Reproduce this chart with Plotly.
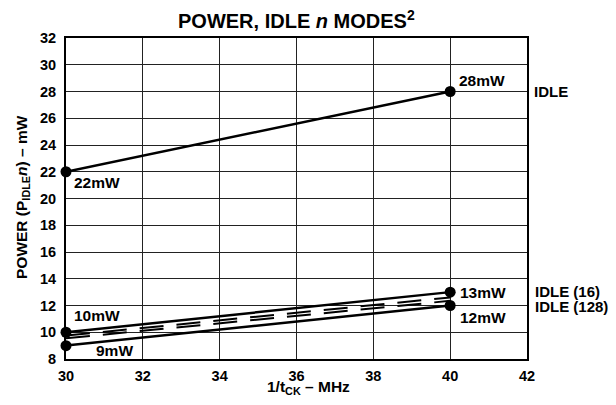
import plotly.graph_objects as go

freq = [30, 40]
idle = [22, 28]
idle16 = [10, 13]
idle128 = [9, 12]
dash_upper = [9.75, 12.6]
dash_lower = [9.55, 12.35]

x_ticks = [30, 32, 34, 36, 38, 40, 42]
y_ticks = [8, 10, 12, 14, 16, 18, 20, 22, 24, 26, 28, 30, 32]

FONT = "Liberation Sans"
L, R, T, B = 66, 527, 38, 359  # plot area in pixels

fig = go.Figure()
for ys in (dash_upper, dash_lower):
    fig.add_trace(go.Scatter(x=freq, y=ys, mode="lines",
                             line=dict(color="black", width=2, dash="24px,13px"),
                             showlegend=False, hoverinfo="skip"))
for ys in (idle, idle16, idle128):
    fig.add_trace(go.Scatter(x=freq, y=ys, mode="lines+markers", cliponaxis=False,
                             line=dict(color="black", width=2.5),
                             marker=dict(color="black", size=11),
                             showlegend=False))

lab = dict(family=FONT, size=15.5, color="black", weight="bold")
side = dict(family=FONT, size=15, color="black", weight="bold")
tickf = dict(family=FONT, size=14.5, color="black", weight="bold")
axt = dict(family=FONT, size=15.5, color="black", weight="bold")

def ann(x, y, text, xs=0, ys=0, font=lab):
    fig.add_annotation(x=x, y=y, xref="x", yref="y", text=text, showarrow=False,
                       xanchor="left", yanchor="middle", xshift=xs, yshift=ys,
                       font=font)

ann(freq[1], idle[1], "28mW", xs=7, ys=11)
ann(freq[0], idle[0], "22mW", xs=6, ys=-11)
ann(freq[0], idle16[0], "10mW", xs=6, ys=17)
ann(freq[0], idle128[0], "9mW", xs=28, ys=-5)
ann(freq[1], idle16[1], "13mW", xs=8, ys=0)
ann(freq[1], idle128[1], "12mW", xs=8, ys=-12)
ann(42, idle[1], "IDLE", xs=5, font=side)
ann(42, idle16[1], "IDLE (16)", xs=6, ys=1, font=side)
ann(42, idle128[1], "IDLE (128)", xs=6, ys=-1, font=side)

def px(xp):
    return (xp - L) / (R - L)

def py(yp):
    return (B - yp) / (B - T)

fig.add_annotation(x=px(296.5), y=py(20), xref="paper", yref="paper",
                   text="POWER, IDLE <i>n</i> MODES<sup>2</sup>", showarrow=False,
                   xanchor="center", yanchor="middle",
                   font=dict(family=FONT, size=20, color="black", weight="bold"))
fig.add_annotation(x=px(308), y=py(388), xref="paper", yref="paper",
                   text="1/t<sub>CK</sub> – MHz", showarrow=False,
                   xanchor="center", yanchor="middle", font=axt)
fig.add_annotation(x=px(22), y=py(197), xref="paper", yref="paper",
                   text="POWER (P<sub>IDLE</sub><i>n</i>) – mW", showarrow=False,
                   textangle=-90, xanchor="center", yanchor="middle", font=axt)

fig.update_layout(
    width=616, height=405,
    margin=dict(l=L, r=616 - R, t=T, b=405 - B),
    paper_bgcolor="white", plot_bgcolor="white",
    font=dict(family=FONT, color="black"),
)
fig.update_xaxes(range=[30, 42], tickvals=x_ticks, showgrid=True, gridcolor="#222",
                 gridwidth=1, showline=True, mirror=True, linecolor="black", linewidth=2,
                 zeroline=False, ticks="", ticklabelstandoff=3, tickfont=tickf)
fig.update_yaxes(range=[8, 32], tickvals=y_ticks, showgrid=True, gridcolor="#222",
                 gridwidth=1, showline=True, mirror=True, linecolor="black", linewidth=2,
                 zeroline=False, ticks="", ticklabelstandoff=5, tickfont=tickf)

fig.write_html("out.html", config={"displayModeBar": False},
               post_script="document.body.style.margin='0';document.body.style.overflow='hidden';")
